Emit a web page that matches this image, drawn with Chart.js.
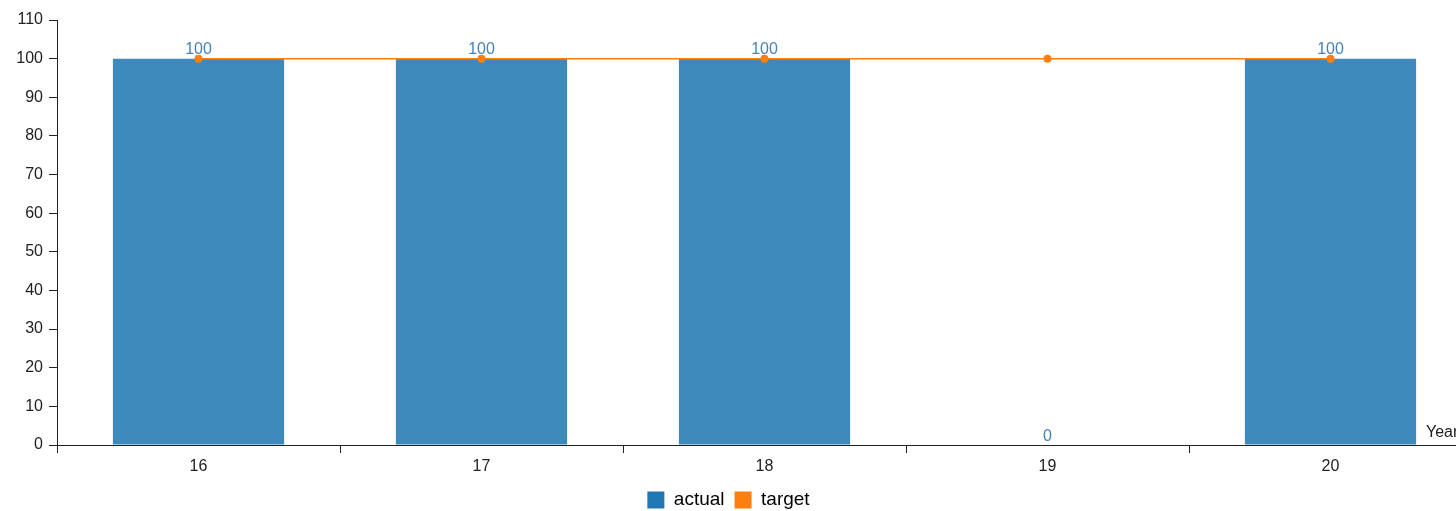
<!DOCTYPE html>
<html>
<head>
<meta charset="utf-8">
<script src="https://cdn.jsdelivr.net/npm/chart.js@4/dist/chart.umd.min.js"></script>
<style>
  html, body { margin: 0; padding: 0; background: #fff; overflow: hidden; }
  #wrap { position: relative; width: 1476px; height: 511px; }
</style>
</head>
<body>
<div id="wrap"><canvas id="chart"></canvas></div>
<script>
const YEARS = ['16', '17', '18', '19', '20'];
const ACTUAL = [100, 100, 100, 0, 100];
const TARGET = [100, 100, 100, 100, 100];
const SERIES_NAMES = ['actual', 'target'];
const LEGEND_COLORS = ['#1f77b4', '#ff7f0e'];
const Y_MAX = 110;
const Y_STEP = 10;
const X_TITLE = 'Year';

const FONT = "'Liberation Sans', Arial, Helvetica, sans-serif";
const AXIS = '#222';
const BAR_FILL = '#3d89bc';
const LABEL_BLUE = '#4682b4';

Chart.defaults.font.family = FONT;
Chart.defaults.font.size = 16;
Chart.defaults.color = AXIS;

// value labels above each bar
const barLabels = {
    id: 'barLabels',
    afterDatasetsDraw(chart) {
        const { ctx } = chart;
        const meta = chart.getDatasetMeta(0);
        ctx.save();
        ctx.font = `16px ${FONT}`;
        ctx.fillStyle = LABEL_BLUE;
        ctx.textAlign = 'center';
        ctx.textBaseline = 'alphabetic';
        meta.data.forEach((bar, i) => {
            ctx.fillText(String(ACTUAL[i]), bar.x, bar.y - 4.5);
        });
        ctx.restore();
    }
};

// axis name sitting just above the right end of the x axis
const axisName = {
    id: 'axisName',
    afterDraw(chart) {
        const { ctx, chartArea } = chart;
        ctx.save();
        ctx.font = `16px ${FONT}`;
        ctx.fillStyle = AXIS;
        ctx.textAlign = 'left';
        ctx.textBaseline = 'alphabetic';
        ctx.fillText(X_TITLE, chartArea.right - 46, chartArea.bottom - 8);
        ctx.restore();
    }
};

// nudge the legend a little down and left
const legendNudge = {
    id: 'legendNudge',
    afterLayout(chart) {
        const lg = chart.legend;
        if (!lg) return;
        lg.top += 2.5; lg.bottom += 2.5;
        lg.left -= 9; lg.right -= 9;
    }
};

new Chart(document.getElementById('chart'), {
    data: {
        labels: YEARS,
        datasets: [
            {
                type: 'bar',
                label: SERIES_NAMES[0],
                data: ACTUAL,
                backgroundColor: BAR_FILL,
                borderWidth: 0,
                barPercentage: 0.605,
                categoryPercentage: 1,
                order: 2
            },
            {
                type: 'line',
                label: SERIES_NAMES[1],
                data: TARGET,
                borderColor: '#ff7f0e',
                borderWidth: 1.5,
                backgroundColor: '#ff7f0e',
                pointRadius: 4,
                pointBorderWidth: 0,
                pointBackgroundColor: '#ff7f0e',
                tension: 0,
                fill: false,
                order: 1
            }
        ]
    },
    options: {
        responsive: true,
        maintainAspectRatio: false,
        animation: false,
        layout: { padding: { top: 20, right: 1, bottom: -6, left: 0 } },
        plugins: {
            tooltip: { enabled: false },
            legend: {
                position: 'bottom',
                labels: {
                    font: { size: 19, family: FONT },
                    color: '#111',
                    boxWidth: 17,
                    boxHeight: 17,
                    padding: 10,
                    generateLabels: () => SERIES_NAMES.map((name, i) => ({
                        text: name,
                        fillStyle: LEGEND_COLORS[i],
                        strokeStyle: LEGEND_COLORS[i],
                        lineWidth: 0,
                        datasetIndex: i,
                        hidden: false
                    }))
                }
            }
        },
        scales: {
            x: {
                type: 'category',
                offset: true,
                grid: { offset: true, drawOnChartArea: false, drawTicks: true, tickLength: 8, color: AXIS },
                border: { display: true, color: AXIS, width: 1 },
                ticks: { color: AXIS, padding: 4, font: { size: 16 }, maxRotation: 0 },
                afterFit: s => { s.height = 33; }
            },
            y: {
                min: 0,
                max: Y_MAX,
                grid: { drawOnChartArea: false, drawTicks: true, tickLength: 8, color: AXIS },
                border: { display: true, color: AXIS, width: 1 },
                ticks: { stepSize: Y_STEP, color: AXIS, padding: 6, font: { size: 16 } },
                afterFit: s => { s.width = 57; }
            }
        }
    },
    plugins: [barLabels, axisName, legendNudge]
});
</script>
</body>
</html>
